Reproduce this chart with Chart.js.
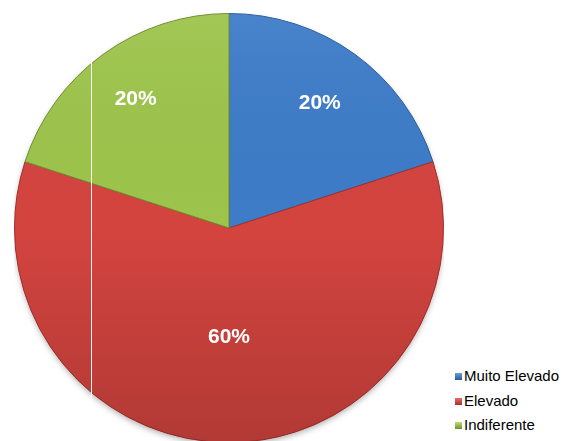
<!DOCTYPE html>
<html>
<head>
<meta charset="utf-8">
<script src="https://cdn.jsdelivr.net/npm/chart.js@4"></script>
<style>
  html, body { margin: 0; padding: 0; background: #fff; }
  body { width: 565px; height: 441px; overflow: hidden; position: relative; font-family: "Liberation Sans", Arial, sans-serif; }
  #wrap { position: absolute; left: 14px; top: 13px; width: 430px; height: 430px; }
  #legend { position: absolute; left: 455px; top: 365px; font-size: 15px; color: #000; }
  #legend div { height: 24.5px; line-height: 21px; white-space: nowrap; }
  #legend span { display: inline-block; width: 7px; height: 7px; margin-right: 2px; vertical-align: 1px; }
</style>
</head>
<body>
<div id="wrap"><canvas id="myChart"></canvas></div>
<div id="legend"></div>
<script>
// shares of answers per category
const labels = ['Muito Elevado', 'Elevado', 'Indiferente'];
const values = [20, 60, 20];

const baseColors = ['#3d7cc8', '#d4443f', '#9dc44b'];
const rimColors = ['#64a0e2', '#ee6b66', '#bde070'];
const edgeColors = ['#2a5a96', '#a2302c', '#6e8d30'];

var total = values.reduce(function(a, b) { return a + b }, 0)

// radial fill so each slice gets a lighter rim near the edge
function sliceFill(context) {
  var chart = context.chart
  var i = context.dataIndex
  var meta = chart.getDatasetMeta(0)
  var arc = meta.data[i]
  if (!arc || !arc.outerRadius) return baseColors[i]
  var g = chart.ctx.createRadialGradient(arc.x, arc.y, 0, arc.x, arc.y, arc.outerRadius)
  g.addColorStop(0, baseColors[i])
  g.addColorStop(0.9, baseColors[i])
  g.addColorStop(0.955, rimColors[i])
  g.addColorStop(1, edgeColors[i])
  return g
}

// soft shadow under the pie, and top-to-bottom shading over it
var shadePlugin = {
  id: 'shade',
  beforeDatasetsDraw: function(chart) {
    var arc = chart.getDatasetMeta(0).data[0]
    if (!arc) return
    var ctx = chart.ctx
    ctx.save()
    ctx.shadowColor = 'rgba(0,0,0,0.35)'
    ctx.shadowBlur = 6
    ctx.shadowOffsetY = 3
    ctx.beginPath()
    ctx.arc(arc.x, arc.y, arc.outerRadius - 1, 0, Math.PI * 2)
    ctx.fillStyle = '#fff'
    ctx.fill()
    ctx.restore()
  },
  afterDatasetsDraw: function(chart) {
    var arc = chart.getDatasetMeta(0).data[0]
    if (!arc) return
    var ctx = chart.ctx
    var r = arc.outerRadius
    ctx.save()
    var g = ctx.createLinearGradient(0, arc.y - r, 0, arc.y + r)
    g.addColorStop(0, 'rgba(255,255,255,0.06)')
    g.addColorStop(0.5, 'rgba(0,0,0,0)')
    g.addColorStop(1, 'rgba(0,0,0,0.16)')
    ctx.beginPath()
    ctx.arc(arc.x, arc.y, r, 0, Math.PI * 2)
    ctx.fillStyle = g
    ctx.fill()
    ctx.restore()
  }
}

// percentage labels inside each slice
var pctPlugin = {
  id: 'pct',
  afterDatasetsDraw: function(chart, args, opts) {
    var ctx = chart.ctx
    var meta = chart.getDatasetMeta(0)
    ctx.save()
    ctx.fillStyle = '#fff'
    ctx.font = 'bold 21px "Liberation Sans", Arial, sans-serif'
    ctx.textAlign = 'center'
    ctx.textBaseline = 'middle'
    meta.data.forEach(function(arc, i) {
      var mid = (arc.startAngle + arc.endAngle) / 2
      var d = arc.outerRadius * opts.radius[i]
      var x = arc.x + Math.cos(mid) * d
      var y = arc.y + Math.sin(mid) * d
      ctx.fillText(Math.round(values[i] / total * 100) + '%', x, y)
    })
    ctx.restore()
  }
}

// thin white vertical rule across the chart
var rulePlugin = {
  id: 'rule',
  afterDraw: function(chart) {
    var ctx = chart.ctx
    ctx.save()
    ctx.strokeStyle = 'rgba(255,255,255,0.95)'
    ctx.lineWidth = 1
    ctx.beginPath()
    ctx.moveTo(77.5, 0)
    ctx.lineTo(77.5, chart.height)
    ctx.stroke()
    ctx.restore()
  }
}

var ctx = document.getElementById('myChart').getContext('2d')
var myPieChart = new Chart(ctx, {
  type: 'pie',
  data: {
    labels: labels,
    datasets: [{
      data: values,
      backgroundColor: sliceFill,
      borderColor: edgeColors,
      borderWidth: 1
    }]
  },
  options: {
    responsive: true,
    maintainAspectRatio: false,
    animation: false,
    layout: { padding: 0 },
    plugins: {
      legend: { display: false },
      tooltip: { enabled: false },
      pct: { radius: [0.72, 0.51, 0.74] }
    }
  },
  plugins: [shadePlugin, pctPlugin, rulePlugin]
})

// legend built from the same labels
var legend = document.getElementById('legend')
for (var i = 0; i < labels.length; i++) {
  var row = document.createElement('div')
  var box = document.createElement('span')
  box.style.background = 'linear-gradient(' + rimColors[i] + ', ' + edgeColors[i] + ')'
  row.appendChild(box)
  row.appendChild(document.createTextNode(labels[i]))
  legend.appendChild(row)
}
</script>
</body>
</html>
